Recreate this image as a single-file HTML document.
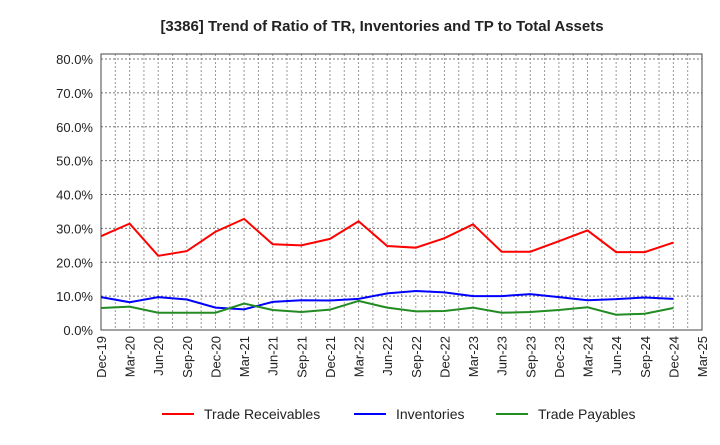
<!DOCTYPE html>
<html><head><meta charset="utf-8"><style>
body{margin:0;background:#fff;font-family:"Liberation Sans",sans-serif}
svg text{font-family:"Liberation Sans",sans-serif}
</style></head><body>
<svg id="chart" width="720" height="440" xmlns="http://www.w3.org/2000/svg">
<text x="382" y="31" text-anchor="middle" font-size="15" font-weight="bold" fill="#222">[3386]  Trend of Ratio of TR, Inventories and TP to Total Assets</text>
<g id="grid"></g><g id="axes"></g><g id="series"></g>
<g>
<g><line x1="162" y1="414" x2="194" y2="414" stroke="#f00" stroke-width="2"/><text x="204" y="419" font-size="14" fill="#222">Trade Receivables</text></g>
<g><line x1="354" y1="414" x2="386" y2="414" stroke="#00f" stroke-width="2"/><text x="396" y="419" font-size="14" fill="#222">Inventories</text></g>
<g><line x1="496" y1="414" x2="528" y2="414" stroke="#228b22" stroke-width="2"/><text x="538" y="419" font-size="14" fill="#222">Trade Payables</text></g>
</g>
</svg>
<script>
const categories=["Dec-19","Mar-20","Jun-20","Sep-20","Dec-20","Mar-21","Jun-21","Sep-21","Dec-21","Mar-22","Jun-22","Sep-22","Dec-22","Mar-23","Jun-23","Sep-23","Dec-23","Mar-24","Jun-24","Sep-24","Dec-24","Mar-25"];
const tradeReceivables=[27.7,31.4,21.9,23.3,29.0,32.8,25.3,25.0,26.9,32.1,24.8,24.3,27.1,31.2,23.1,23.1,26.2,29.4,23.0,23.0,25.8];
const inventories=[9.7,8.2,9.7,9.0,6.6,6.1,8.3,8.8,8.7,9.2,10.8,11.5,11.1,10.0,10.0,10.6,9.7,8.8,9.1,9.6,9.2];
const tradePayables=[6.5,6.9,5.1,5.1,5.1,7.8,5.9,5.3,6.0,8.6,6.6,5.5,5.6,6.6,5.1,5.3,5.9,6.7,4.5,4.8,6.5];
const yTicks=[0,10,20,30,40,50,60,70,80];
const NS="http://www.w3.org/2000/svg";
const L=101,R=702,T=54,B=330;
const xs=i=>L+i*(R-L)/(categories.length-1);
const ys=v=>B-v*(B-59)/80;
function mk(tag,attrs,parent){const e=document.createElementNS(NS,tag);for(const k in attrs)e.setAttribute(k,attrs[k]);parent.appendChild(e);return e;}
const grid=document.getElementById('grid'),axes=document.getElementById('axes'),ser=document.getElementById('series');
for(let i=0;i<categories.length;i++){for(let k=0;k<2;k++){const x=xs(i)+k*(R-L)/(categories.length-1)/2;if(x>R)continue;
const l=mk('line',{x1:x,y1:T,x2:x,y2:B,stroke:'#999','stroke-dasharray':'2,2','stroke-width':1},grid);

}
const t=mk('text',{transform:`translate(${xs(i)+5},${B+6}) rotate(-90)`,'text-anchor':'end','font-size':13,fill:'#222'},axes);t.textContent=categories[i];

}
for(const v of yTicks){const l=mk('line',{x1:L,y1:ys(v),x2:R,y2:ys(v),stroke:'#777','stroke-dasharray':'2,2','stroke-width':1},grid);


const t=mk('text',{x:L-8,y:ys(v)+5,'text-anchor':'end','font-size':13,fill:'#222'},axes);t.textContent=v.toFixed(1)+'%';

}
const fr=mk('rect',{x:L,y:T,width:R-L,height:B-T,fill:'none',stroke:'#444','stroke-width':1},axes);


function line(data,color,name){const p=mk('polyline',{points:data.map((v,i)=>xs(i)+','+ys(v)).join(' '),fill:'none',stroke:color,'stroke-width':2},ser);

}
line(tradeReceivables,'#f00','trade-receivables-line');
line(inventories,'#00f','inventories-line');
line(tradePayables,'#228b22','trade-payables-line');
</script>
</body></html>
